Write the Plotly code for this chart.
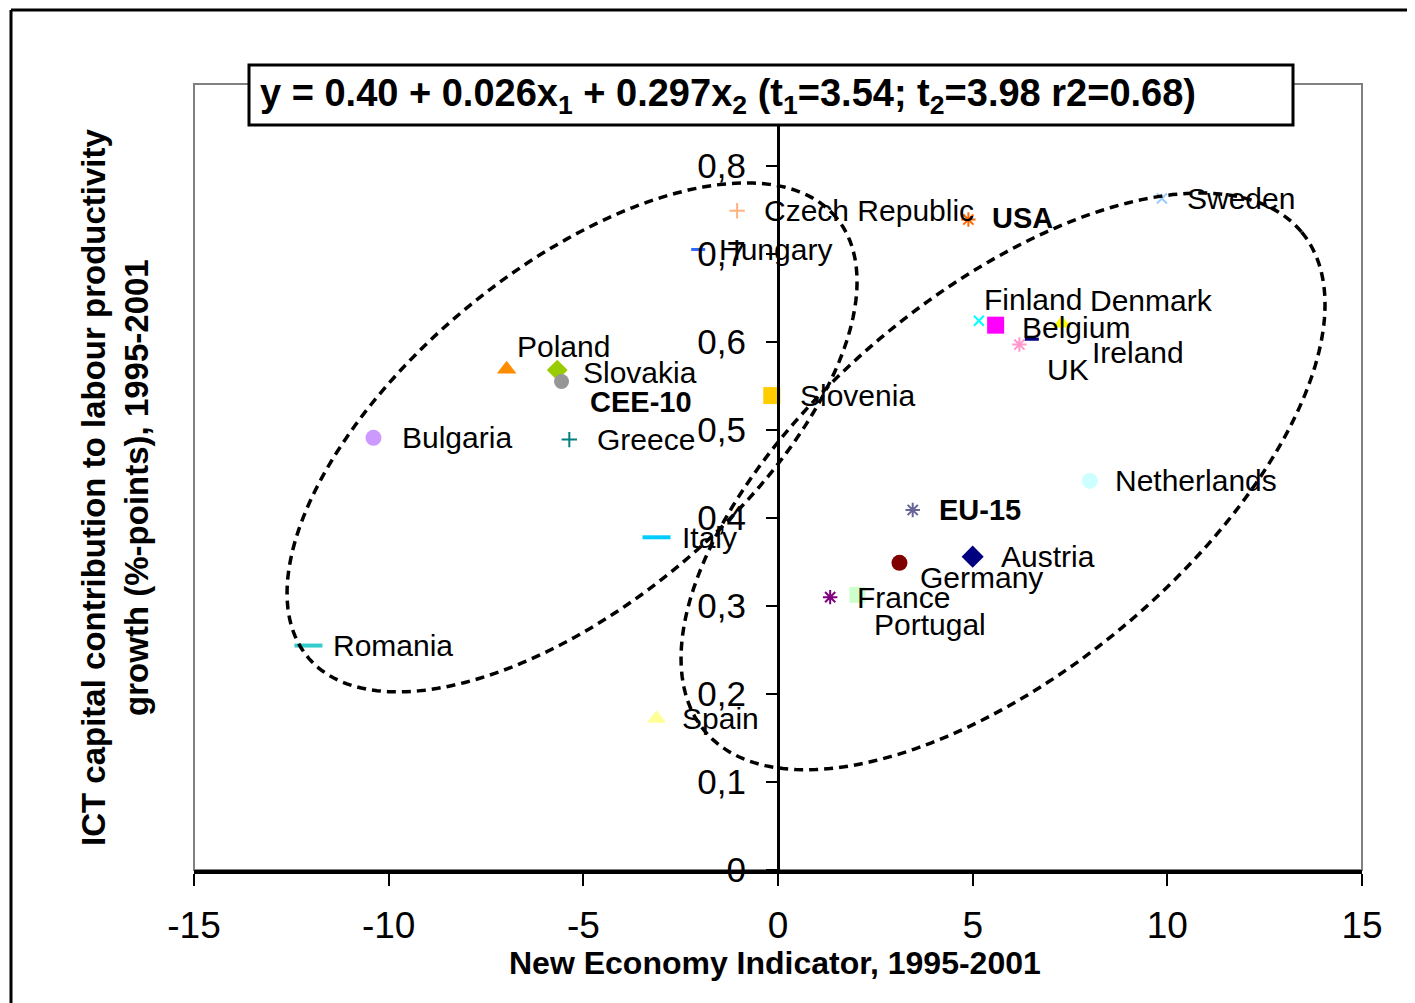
import numpy as np
import plotly.graph_objects as go

# ---------------- data ----------------
countries = ["Czech Republic", "Hungary", "USA", "Sweden", "Finland", "Belgium", "UK",
             "Ireland", "Denmark", "Slovenia", "Poland", "Slovakia", "CEE-10", "Bulgaria",
             "Greece", "Italy", "Romania", "Spain", "Netherlands", "EU-15", "Austria",
             "Germany", "France", "Portugal"]
new_economy = [-1.05, -2.05, 4.89, 9.86, 5.16, 5.59, 6.20, 6.52, 7.29, -0.16, -6.97, -5.67,
               -5.56, -10.39, -5.36, -3.12, -12.06, -3.12, 8.01, 3.46, 5.00, 3.12, 1.34, 2.04]
ict_contrib = [0.749, 0.705, 0.739, 0.763, 0.624, 0.619, 0.597, 0.603, 0.621, 0.539, 0.569,
               0.568, 0.555, 0.491, 0.489, 0.378, 0.255, 0.172, 0.442, 0.409, 0.356, 0.349,
               0.310, 0.3125]
x_ticks = [-15, -10, -5, 0, 5, 10, 15]
x_tick_labels = ["-15", "-10", "-5", "0", "5", "10", "15"]
y_ticks = [0, 0.1, 0.2, 0.3, 0.4, 0.5, 0.6, 0.7, 0.8]
y_tick_labels = ["0", "0,1", "0,2", "0,3", "0,4", "0,5", "0,6", "0,7", "0,8"]
equation = ("y = 0.40 + 0.026x<sub>1</sub> + 0.297x<sub>2</sub> "
            "(t<sub>1</sub>=3.54; t<sub>2</sub>=3.98 r2=0.68)")
x_title = "New Economy Indicator, 1995-2001"
y_title = "ICT capital contribution to labour productivity<br>growth (%-points), 1995-2001"

# ---------------- styles ----------------
# symbol, colour, size, open(line width), bold label, label offset (px right, px down)
style = {
    "Czech Republic": ("cross-thin-open", "#FFB27F", 11, 2, False, (25, 0)),
    "Hungary":        ("line-ew-open", "#3366FF", 10, 3, False, (19, 0)),
    "USA":            ("asterisk-open", "#FF6600", 12, 2, True, (22, -2)),
    "Sweden":         ("x-thin-open", "#99CCFF", 10, 2, False, (23, 0)),
    "Finland":        ("x-thin-open", "#00FFFF", 10, 2, False, (3, -21)),
    "Belgium":        ("square", "#FF00FF", 17, 0, False, (24, 2)),
    "UK":             ("asterisk-open", "#FF99CC", 12, 2, False, (26, 25)),
    "Ireland":        ("line-ew-open", "#000080", 10, 3, False, (58, 13)),
    "Denmark":        ("triangle-up", "#FFFF00", 16, 0, False, (26, -23)),
    "Slovenia":       ("square", "#FFCC00", 17, 0, False, (26, 0)),
    "Poland":         ("triangle-up", "#FF8C00", 17, 0, False, (8, -23)),
    "Slovakia":       ("diamond", "#99CC00", 16, 0, False, (24, 2)),
    "CEE-10":         ("circle", "#969696", 15, 0, True, (26, 20)),
    "Bulgaria":       ("circle", "#CC99FF", 16, 0, False, (27, 0)),
    "Greece":         ("cross-thin-open", "#008080", 11, 2, False, (26, 0)),
    "Italy":          ("line-ew-open", "#00CCFF", 20, 4, False, (23, 0)),
    "Romania":        ("line-ew-open", "#33CCCC", 20, 4, False, (23, 0)),
    "Spain":          ("triangle-up", "#FFFF99", 17, 0, False, (23, 0)),
    "Netherlands":    ("circle", "#CCFFFF", 16, 0, False, (23, 0)),
    "EU-15":          ("asterisk-open", "#666699", 12, 2, True, (24, 0)),
    "Austria":        ("diamond", "#000080", 17, 0, False, (26, 0)),
    "Germany":        ("circle", "#800000", 16, 0, False, (19, 15)),
    "France":         ("asterisk-open", "#800080", 12, 2, False, (25, 0)),
    "Portugal":       ("square", "#CCFFCC", 16, 0, False, (15, 30)),
}

W, H = 1415, 1003
OFF = 8  # page body margin
ML, MT = 194 - OFF, 84 - OFF
pw, ph = 1168, 786
MR, MB = W - ML - pw, H - MT - ph
XR = [-15, 15]
YR = [0, 0.893]
px_x = pw / (XR[1] - XR[0])
px_y = ph / (YR[1] - YR[0])

FONT = "Liberation Sans, Arial, sans-serif"

fig = go.Figure()
annotations = []
for name, xv, yv in zip(countries, new_economy, ict_contrib):
    sym, col, size, lw, bold, (dx, dy) = style[name]
    marker = dict(symbol=sym, color=col, size=size)
    marker["line"] = dict(color=col, width=lw) if lw else dict(width=0)
    fig.add_trace(go.Scatter(x=[xv], y=[yv], mode="markers", marker=marker,
                             name=name, showlegend=False, cliponaxis=False))
    txt = f"<b>{name}</b>" if bold else name
    annotations.append(dict(x=xv, y=yv, xref="x", yref="y", text=txt, showarrow=False,
                            xanchor="left", yanchor="middle", xshift=dx, yshift=-dy,
                            font=dict(family=FONT, size=29 if bold else 30, color="black")))


def ellipse_path(cx, cy, a_px, b_px, ang_deg, n=240):
    t = np.linspace(0, 2 * np.pi, n)
    ang = np.radians(ang_deg)
    dxp = a_px * np.cos(t) * np.cos(ang) - b_px * np.sin(t) * np.sin(ang)
    dyp = a_px * np.cos(t) * np.sin(ang) + b_px * np.sin(t) * np.cos(ang)
    xs = cx + dxp / px_x
    ys = cy + dyp / px_y
    return "M " + " L ".join(f"{a:.4f},{b:.5f}" for a, b in zip(xs, ys)) + " Z"


def ppx(px):  # page pixel -> paper x
    return (px - OFF - ML) / pw


def ppy(py):  # page pixel -> paper y
    return (MT + ph - (py - OFF)) / ph


shapes = []
shapes.append(dict(type="rect", xref="paper", yref="paper", x0=0, x1=1, y0=0, y1=1,
                   line=dict(color="#808080", width=2), layer="below"))
for cx, cy, a, b, ang in [(-5.29, 0.4915, 343.7, 166.9, 39.75),
                          (5.78, 0.4415, 389.0, 188.5, 39.9)]:
    shapes.append(dict(type="path", xref="x", yref="y", path=ellipse_path(cx, cy, a, b, ang),
                       line=dict(color="black", width=3.5, dash="9px,6px"),
                       fillcolor="rgba(0,0,0,0)", layer="above"))
shapes.append(dict(type="rect", xref="paper", yref="paper", x0=ppx(249), x1=ppx(1293),
                   y0=ppy(125), y1=ppy(65), line=dict(color="black", width=3),
                   fillcolor="white", layer="above"))
# outer frame (left and top edges)
shapes.append(dict(type="line", xref="paper", yref="paper", x0=ppx(11), x1=ppx(11),
                   y0=ppy(H + 20), y1=ppy(10), line=dict(color="black", width=3)))
shapes.append(dict(type="line", xref="paper", yref="paper", x0=ppx(11), x1=ppx(W + 20),
                   y0=ppy(10), y1=ppy(10), line=dict(color="black", width=3)))

annotations.append(dict(x=ppx(258), y=ppy(96), xref="paper", yref="paper",
                        text=f"<b>{equation}</b>", showarrow=False, xanchor="left",
                        yanchor="middle", font=dict(family=FONT, size=38, color="black")))
annotations.append(dict(x=ppx(775), y=ppy(963), xref="paper", yref="paper",
                        text=f"<b>{x_title}</b>", showarrow=False, xanchor="center",
                        yanchor="middle", font=dict(family=FONT, size=32, color="black")))
annotations.append(dict(x=ppx(115), y=ppy(488), xref="paper", yref="paper",
                        text=f"<b>{y_title}</b>", showarrow=False, xanchor="center",
                        yanchor="middle", textangle=-90,
                        font=dict(family=FONT, size=33, color="black")))

fig.update_layout(
    width=W, height=H, autosize=False,
    margin=dict(l=ML, r=MR, t=MT, b=MB, pad=0),
    paper_bgcolor="white", plot_bgcolor="white",
    showlegend=False,
    shapes=shapes, annotations=annotations,
    xaxis=dict(range=XR, tickvals=x_ticks, ticktext=x_tick_labels, showgrid=False,
               zeroline=False, showline=True, linecolor="black", linewidth=4,
               ticks="outside", ticklen=12, tickwidth=2, tickcolor="black",
               ticklabelstandoff=8,
               tickfont=dict(family=FONT, size=37, color="black")),
    yaxis=dict(range=YR, tickvals=y_ticks, ticktext=y_tick_labels, showgrid=False,
               zeroline=False, anchor="free", position=0.5,
               showline=True, linecolor="black", linewidth=3,
               ticks="outside", ticklen=11, tickwidth=2, tickcolor="black",
               ticklabelstandoff=13,
               tickfont=dict(family=FONT, size=35, color="black")),
)

fig.write_html("out.html")
